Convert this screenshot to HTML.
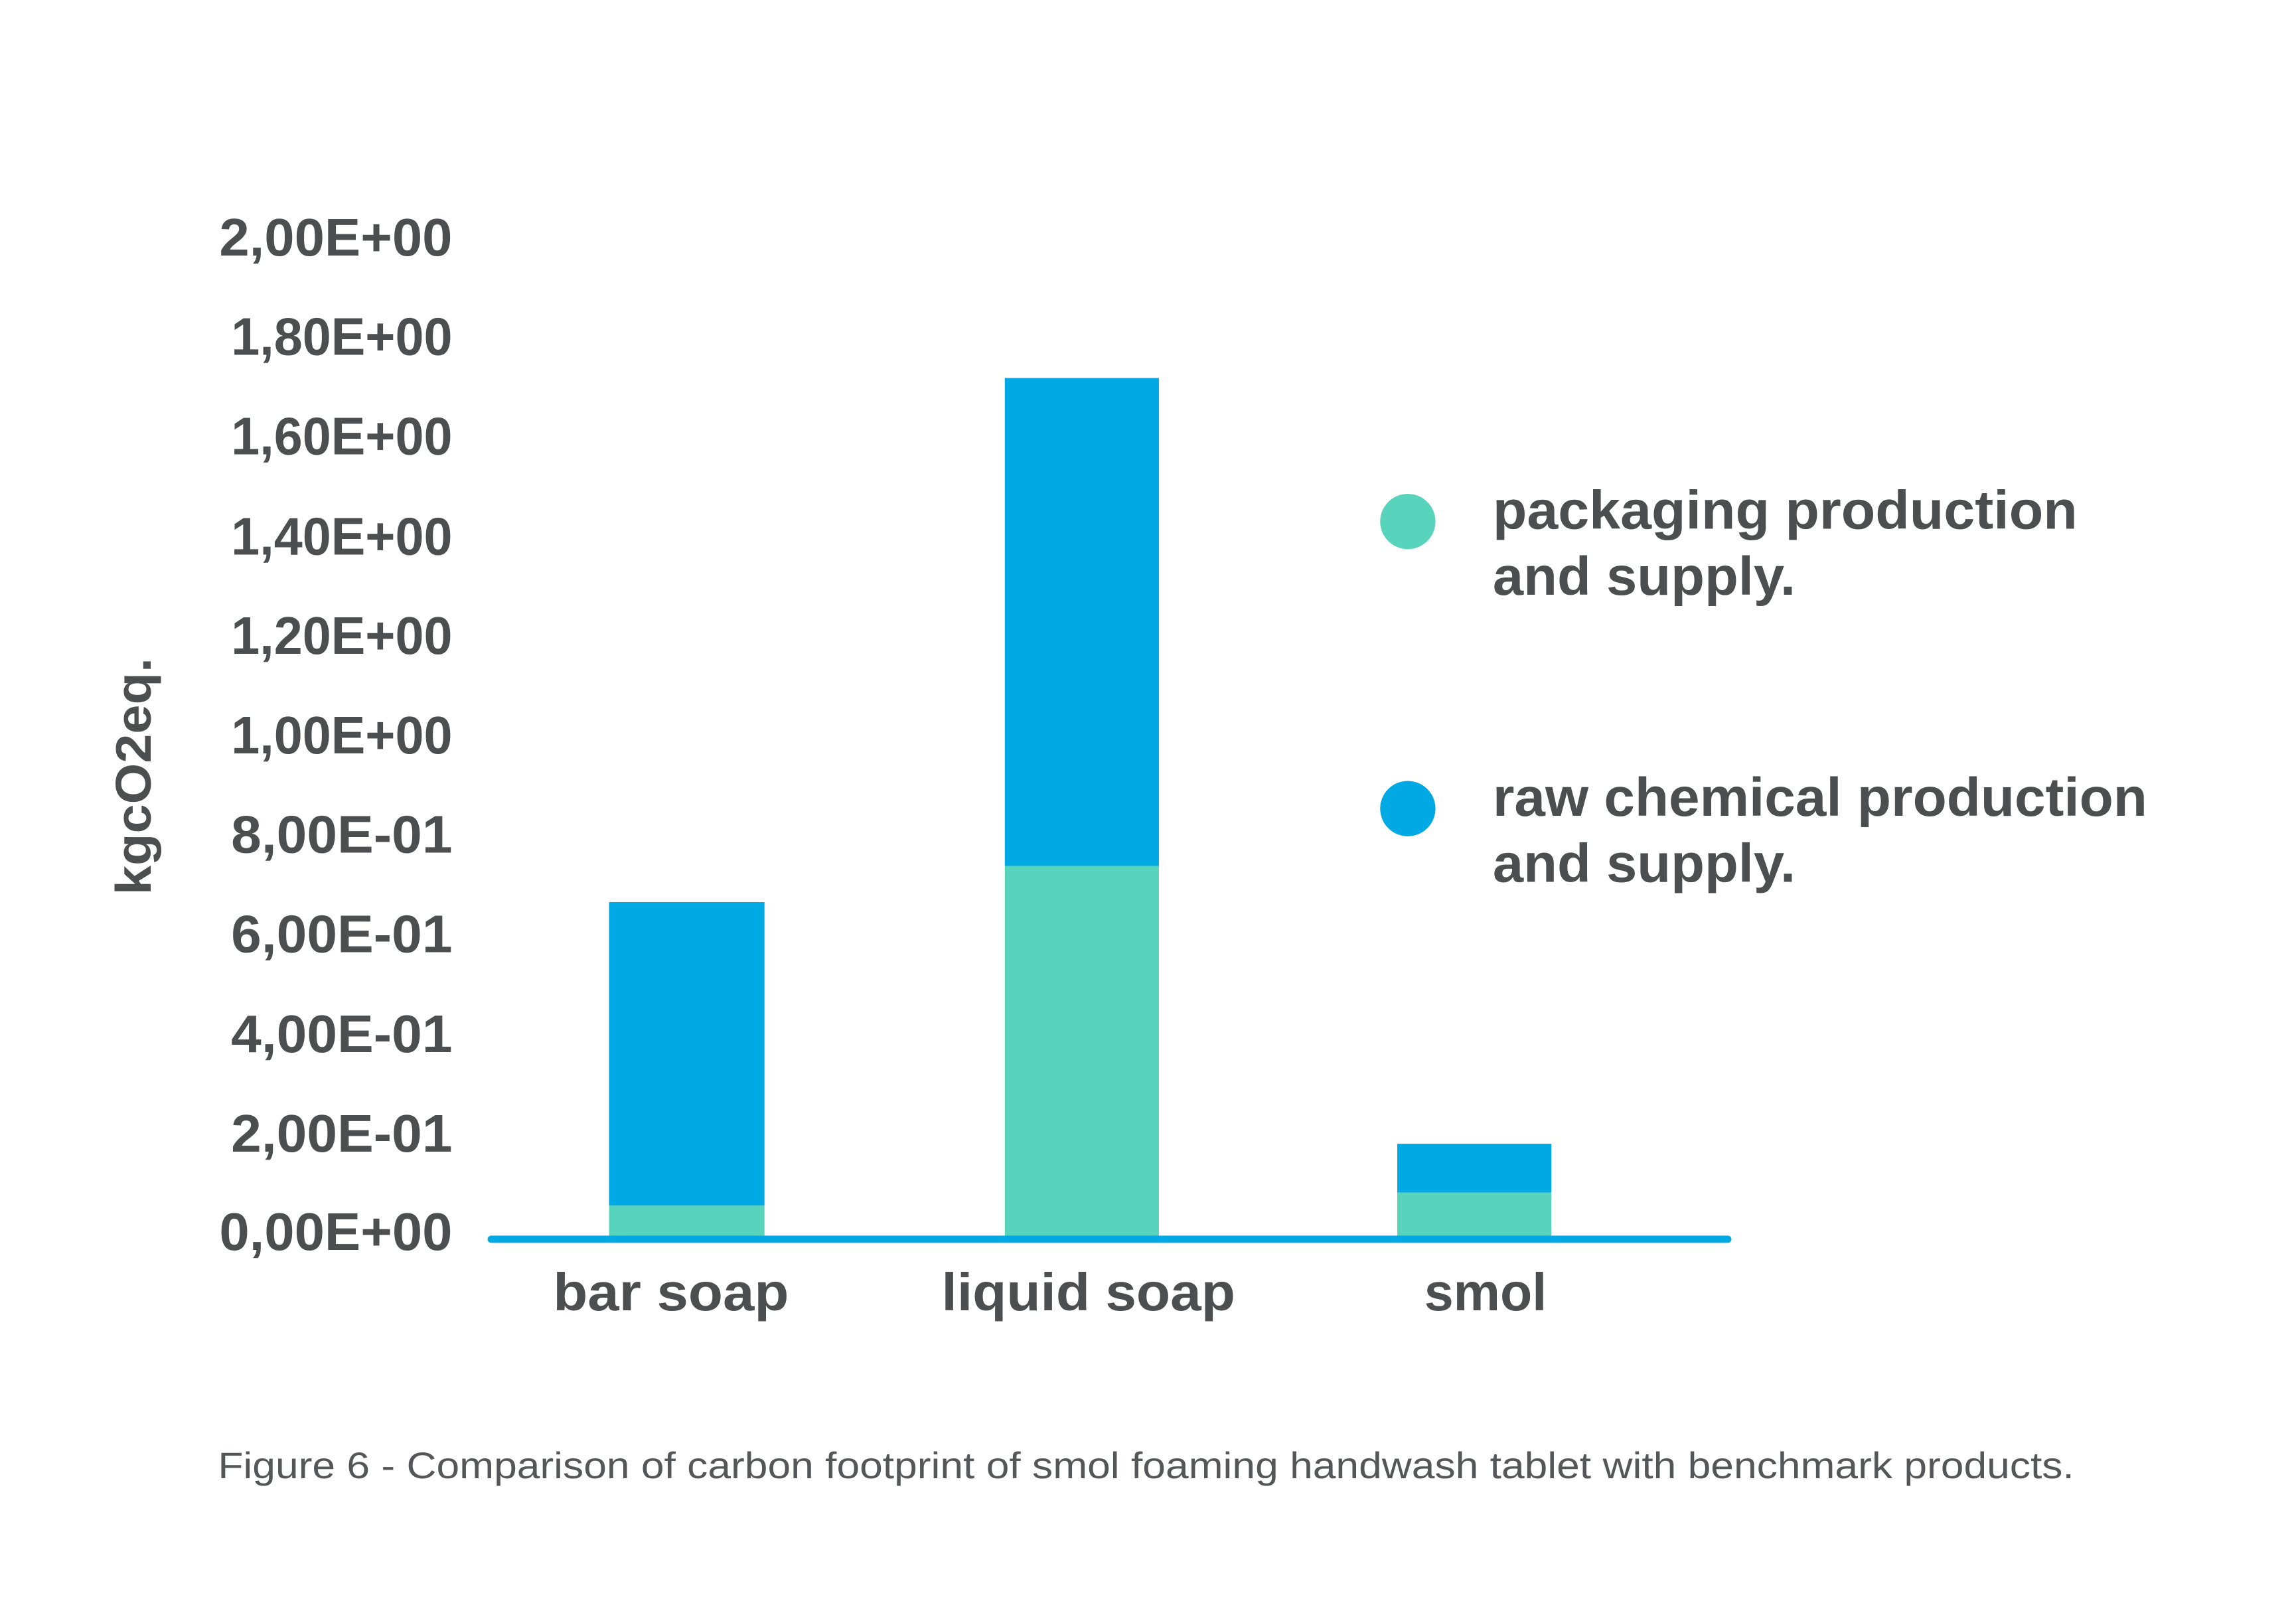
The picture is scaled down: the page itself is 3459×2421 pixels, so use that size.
<!DOCTYPE html>
<html><head><meta charset="utf-8"><style>
html,body{margin:0;padding:0;background:#fff;}
svg{display:block;}
text{font-family:"Liberation Sans",sans-serif;fill:#4d4e50;}
</style></head><body>
<svg width="3459" height="2421" viewBox="0 0 3459 2421" xmlns="http://www.w3.org/2000/svg">
<rect width="3459" height="2421" fill="#fff"/>
<g transform="scale(0.992)">
<g font-weight="bold" font-size="80" text-anchor="end">
<text x="687" y="388" textLength="354" lengthAdjust="spacingAndGlyphs">2,00E+00</text>
<text x="687" y="539" textLength="336" lengthAdjust="spacingAndGlyphs">1,80E+00</text>
<text x="687" y="690" textLength="336" lengthAdjust="spacingAndGlyphs">1,60E+00</text>
<text x="687" y="842" textLength="336" lengthAdjust="spacingAndGlyphs">1,40E+00</text>
<text x="687" y="993" textLength="336" lengthAdjust="spacingAndGlyphs">1,20E+00</text>
<text x="687" y="1144" textLength="336" lengthAdjust="spacingAndGlyphs">1,00E+00</text>
<text x="687" y="1295" textLength="336" lengthAdjust="spacingAndGlyphs">8,00E-01</text>
<text x="687" y="1446" textLength="336" lengthAdjust="spacingAndGlyphs">6,00E-01</text>
<text x="687" y="1598" textLength="336" lengthAdjust="spacingAndGlyphs">4,00E-01</text>
<text x="687" y="1749" textLength="336" lengthAdjust="spacingAndGlyphs">2,00E-01</text>
<text x="687" y="1898" textLength="354" lengthAdjust="spacingAndGlyphs">0,00E+00</text>
</g>
<text transform="translate(229,1179) rotate(-90)" text-anchor="middle" font-weight="bold" font-size="76" textLength="360" lengthAdjust="spacingAndGlyphs">kgcO2eq.</text>
<rect x="925" y="1370" width="236" height="461" fill="#00a9e3"/>
<rect x="925" y="1831" width="236" height="48" fill="#59d4bc"/>
<rect x="1526" y="574" width="234" height="741" fill="#00a9e3"/>
<rect x="1526" y="1315" width="234" height="564" fill="#59d4bc"/>
<rect x="2122" y="1737" width="234" height="74" fill="#00a9e3"/>
<rect x="2122" y="1811" width="234" height="68" fill="#59d4bc"/>
<line x1="746" y1="1882" x2="2624" y2="1882" stroke="#00a9e3" stroke-width="11" stroke-linecap="round"/>
<g font-weight="bold" font-size="80" text-anchor="middle">
<text x="1019" y="1990" textLength="358" lengthAdjust="spacingAndGlyphs">bar soap</text>
<text x="1653" y="1990" textLength="446" lengthAdjust="spacingAndGlyphs">liquid soap</text>
<text x="2256" y="1990" textLength="186" lengthAdjust="spacingAndGlyphs">smol</text>
</g>
<circle cx="2138" cy="792" r="42" fill="#59d4bc"/>
<circle cx="2138" cy="1228" r="42" fill="#00a9e3"/>
<g font-weight="bold" font-size="82">
<text x="2267" y="803" textLength="888" lengthAdjust="spacingAndGlyphs">packaging production</text>
<text x="2267" y="903" textLength="460" lengthAdjust="spacingAndGlyphs">and supply.</text>
<text x="2267" y="1239" textLength="994" lengthAdjust="spacingAndGlyphs">raw chemical production</text>
<text x="2267" y="1339" textLength="460" lengthAdjust="spacingAndGlyphs">and supply.</text>
</g>
<text x="331" y="2245" font-size="56" textLength="2819" lengthAdjust="spacingAndGlyphs" style="fill:#555658">Figure 6 - Comparison of carbon footprint of smol foaming handwash  tablet with benchmark products.</text>
</g>
</svg>
</body></html>
